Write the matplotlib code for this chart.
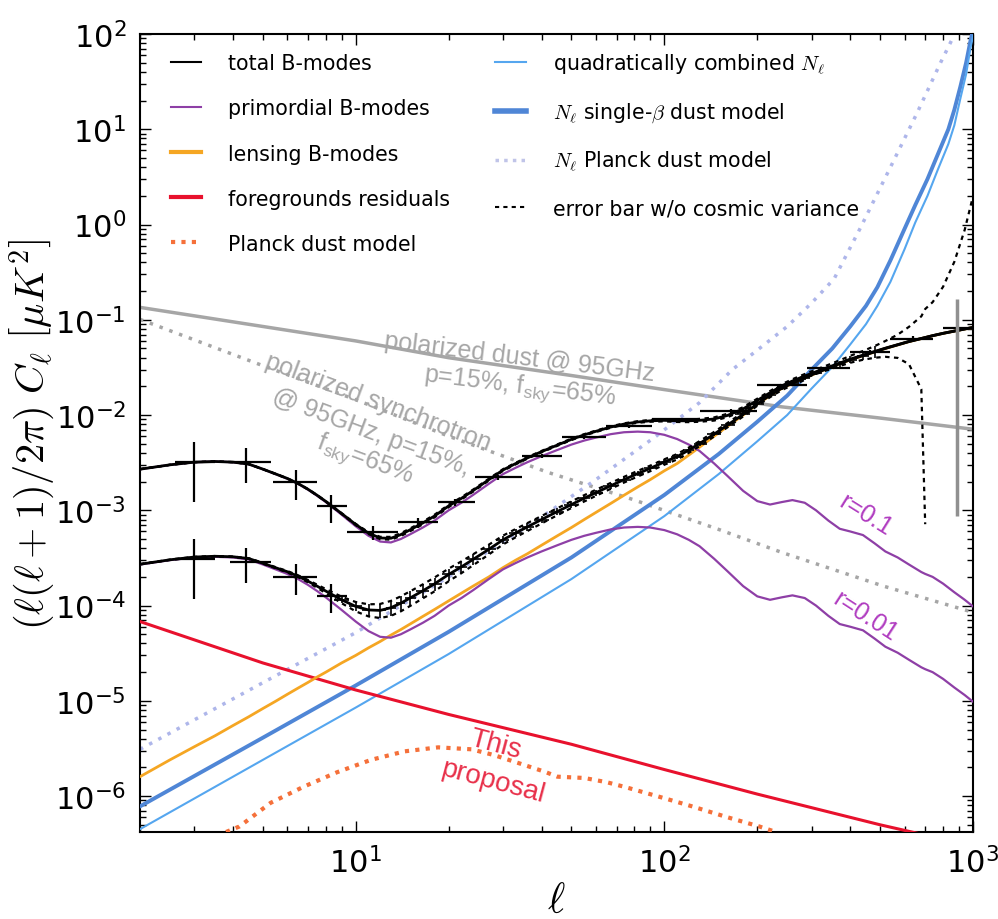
import numpy as np
import matplotlib.pyplot as plt

plt.rcParams["mathtext.fontset"] = "cm"
plt.rcParams["axes.unicode_minus"] = False

# ---- spectra on a common multipole grid ----
ell = np.array([2, 2.5, 3, 3.5, 4, 4.5, 5, 5.5, 6, 6.5, 7, 7.5, 8, 9, 10, 11, 12, 13, 14, 15,
                16.5, 18, 20, 22, 24, 27, 30, 33, 36, 40, 45, 50, 55, 60, 67, 74, 82, 90, 100,
                110, 120, 130, 145, 160, 180, 200, 220, 240, 260, 285, 310, 340, 370, 400, 440,
                480, 520, 570, 620, 680, 700, 740, 800, 870, 940, 1000])

prim_r01 = np.array([2.7e-3, 3.0e-3, 3.2e-3, 3.25e-3, 3.2e-3, 3.05e-3, 2.7e-3, 2.4e-3, 2.15e-3,
                     1.9e-3, 1.65e-3, 1.42e-3, 1.22e-3, 9.0e-4, 6.8e-4, 5.4e-4, 4.7e-4, 4.6e-4,
                     5.0e-4, 5.6e-4, 6.6e-4, 7.8e-4, 1.0e-3, 1.2e-3, 1.45e-3, 1.9e-3, 2.4e-3,
                     2.8e-3, 3.2e-3, 3.7e-3, 4.3e-3, 4.9e-3, 5.4e-3, 5.8e-3, 6.3e-3, 6.6e-3,
                     6.7e-3, 6.6e-3, 6.2e-3, 5.6e-3, 4.9e-3, 4.2e-3, 3.1e-3, 2.3e-3, 1.6e-3,
                     1.25e-3, 1.15e-3, 1.22e-3, 1.28e-3, 1.2e-3, 1.0e-3, 7.8e-4, 6.4e-4, 6.0e-4,
                     5.5e-4, 4.5e-4, 3.7e-4, 3.2e-4, 2.7e-4, 2.25e-4, 2.15e-4, 2.0e-4, 1.7e-4,
                     1.38e-4, 1.15e-4, 9.8e-5])

lensing = np.array([1.6e-6, 2.4e-6, 3.3e-6, 4.3e-6, 5.5e-6, 6.8e-6, 8.3e-6, 9.9e-6, 1.17e-5,
                    1.36e-5, 1.56e-5, 1.78e-5, 2.0e-5, 2.5e-5, 3.0e-5, 3.6e-5, 4.2e-5, 4.9e-5,
                    5.6e-5, 6.4e-5, 7.7e-5, 9.1e-5, 1.12e-4, 1.35e-4, 1.6e-4, 2.0e-4, 2.5e-4,
                    3.0e-4, 3.5e-4, 4.3e-4, 5.4e-4, 6.6e-4, 8.0e-4, 9.5e-4, 1.18e-3, 1.44e-3,
                    1.76e-3, 2.1e-3, 2.6e-3, 3.1e-3, 3.8e-3, 4.6e-3, 6.0e-3, 7.6e-3, 1.0e-2,
                    1.3e-2, 1.6e-2, 1.9e-2, 2.15e-2, 2.45e-2, 2.75e-2, 3.1e-2, 3.45e-2, 3.8e-2,
                    4.2e-2, 4.6e-2, 5.0e-2, 5.45e-2, 5.9e-2, 6.35e-2, 6.5e-2, 6.8e-2, 7.2e-2,
                    7.6e-2, 8.0e-2, 8.3e-2])

# error bar without cosmic variance
noise_err = np.array([1e-6, 1e-6, 1.5e-6, 2e-6, 2e-6, 2.5e-6, 3e-6, 3.5e-6, 4e-6, 4.5e-6, 5e-6,
                      6e-6, 7e-6, 9e-6, 1.1e-5, 1.3e-5, 1.5e-5, 1.7e-5, 1.9e-5, 2.1e-5, 2.4e-5,
                      2.8e-5, 3.2e-5, 3.6e-5, 4.0e-5, 4.6e-5, 5.2e-5, 5.8e-5, 6.4e-5, 7.2e-5,
                      8.2e-5, 9.2e-5, 1.02e-4, 1.12e-4, 1.28e-4, 1.45e-4, 1.65e-4, 1.85e-4,
                      2.1e-4, 2.4e-4, 2.7e-4, 3.0e-4, 3.5e-4, 4.1e-4, 5.0e-4, 6.0e-4, 7.2e-4,
                      8.6e-4, 1.0e-3, 1.25e-3, 1.5e-3, 1.9e-3, 2.4e-3, 3.2e-3, 4.5e-3, 6.5e-3,
                      9.5e-3, 1.5e-2, 2.5e-2, 4.5e-2, 6.45e-2, 8.5e-2, 0.15, 0.33, 0.8, 1.9])

# ---- foregrounds ----
dust_l = [2, 10, 20, 50, 100, 240, 500, 1000]
dust = [0.135, 0.060, 0.040, 0.026, 0.0185, 0.0122, 0.0093, 0.0071]

sync_l = [2, 5, 10, 20, 42, 79, 150, 241, 513, 1000]
sync = [0.101, 0.033, 0.0145, 6.0e-3, 2.5e-3, 1.3e-3, 6.3e-4, 3.6e-4, 1.6e-4, 8.5e-5]

fg_l = [2, 5, 10, 20, 50, 100, 200, 500, 700]
fg_res = [6.8e-5, 2.5e-5, 1.3e-5, 7.2e-6, 3.5e-6, 1.9e-6, 1.05e-6, 5.0e-7, 3.9e-7]

pdust_l = [3.8, 4.2, 5.3, 6.8, 8.7, 11.2, 14.4, 18.5, 23.7, 28, 34, 41, 45, 55, 65, 75, 100,
           123, 160, 203, 230]
pdust = [4.2e-7, 4.8e-7, 8.5e-7, 1.26e-6, 1.78e-6, 2.4e-6, 2.95e-6, 3.25e-6, 3.1e-6, 2.7e-6,
         2.2e-6, 1.8e-6, 1.6e-6, 1.55e-6, 1.4e-6, 1.24e-6, 9.5e-7, 7.8e-7, 6e-7, 4.8e-7, 4.2e-7]

# ---- noise curves ----
nl_l = [2, 5, 10, 20, 50, 100, 150, 200, 250, 300, 350, 400, 450, 490, 540, 600, 650, 712,
        770, 832, 870, 910, 950, 980, 1000]
nl_beta = [7.8e-7, 4.1e-6, 1.45e-5, 5.3e-5, 3.2e-4, 1.45e-3, 3.9e-3, 8.5e-3, 1.6e-2, 3.0e-2,
           5.0e-2, 8.5e-2, 0.14, 0.22, 0.42, 0.9, 1.6, 3.0, 5.5, 10, 16, 28, 50, 83, 110]
nl_quad = [4.5e-7, 2.4e-6, 8.5e-6, 3.1e-5, 1.9e-4, 8.7e-4, 2.4e-3, 5.3e-3, 1.0e-2, 1.9e-2,
           3.2e-2, 5.5e-2, 9.0e-2, 0.14, 0.25, 0.55, 1.05, 2.0, 3.8, 7.0, 11, 21, 38, 70, 95]

nlp_l = [2, 5, 10, 20, 40, 60, 94, 130, 166, 200, 250, 300, 355, 430, 550, 660, 785, 870]
nl_planck = [3.1e-6, 1.55e-5, 5.2e-5, 2.0e-4, 8.5e-4, 2.1e-3, 6e-3, 1.35e-2, 3.0e-2, 4.8e-2,
             8.5e-2, 0.15, 0.27, 0.9, 4.5, 15, 50, 98]

# ---- binned error bars ----
bin_l = [3, 4.4, 6.4, 8.3, 11.4, 15.9, 21, 29, 40, 55, 77, 110, 165, 240, 340, 465, 640, 890]
bin_lo = [2.6, 3.9, 5.4, 7.5, 9.4, 13.7, 18.5, 24.4, 34.5, 46.5, 64.6, 91, 130, 200, 290, 400, 540, 800]
bin_hi = [3.5, 5.3, 7.5, 9.4, 13.7, 18.5, 24.4, 34.5, 46.5, 64.6, 91, 130, 200, 290, 400, 540, 740, 1000]
bin_r01 = [3.19e-3, 3.19e-3, 1.97e-3, 1.10e-3, 5.9e-4, 7.5e-4, 1.21e-3, 2.22e-3, 3.69e-3,
           5.85e-3, 7.63e-3, 9.04e-3, 1.1e-2, 2.05e-2, 3.15e-2, 4.6e-2, 6.3e-2, 8.2e-2]
bin_rel = [0.62, 0.4, 0.35, 0.33, 0.17, 0.12, 0.08, 0.06, 0.05, 0.04, 0.04, 0.03, 0.04, 0.04,
           0.05, 0.06, 0.08, 0.0]
bin_r001 = [3.05e-4, 2.9e-4, 2.0e-4, 1.26e-4]
last_bar = (890, 8.8e-4, 0.165)

total_r01 = prim_r01 + lensing
total_r001 = 0.1 * prim_r01 + lensing

PURPLE = "#8e3fa6"
GRAY = "#a6a6a6"
DASH = (0, (2, 2))

fig = plt.figure(figsize=(9.98, 9.2), dpi=100)
ax = fig.add_axes([140 / 998, 1 - 833 / 920, 833 / 998, 798 / 920])

# foregrounds
ax.plot(dust_l, dust, color=GRAY, lw=2.5, zorder=2)
ax.plot(sync_l, sync, color=GRAY, lw=2.5, ls=(0, (1, 2)), zorder=2)

# noise
ax.plot(nlp_l, nl_planck, color="#aeb6ea", lw=2.5, ls=(0, (1, 2)), zorder=2)
ax.plot(nl_l, nl_beta, color="#4f86d6", lw=2.8, zorder=3)
ax.plot(nl_l, nl_quad, color="#55a6ef", lw=1.5, zorder=3)

# residuals
ax.plot(fg_l, fg_res, color="#e8112d", lw=2.2, zorder=3)
ax.plot(pdust_l, pdust, color="#f5703a", lw=3, ls=(0, (1, 1.5)), zorder=3)

# signal
ax.plot(ell, lensing, color="#f5a623", lw=2, zorder=3)
ax.plot(ell, prim_r01, color=PURPLE, lw=1.6, zorder=4)
ax.plot(ell, 0.1 * prim_r01, color=PURPLE, lw=1.6, zorder=4)

# error bar w/o cosmic variance envelopes
up1 = total_r01 + noise_err
lo1 = np.where(total_r01 - noise_err > 0, total_r01 - noise_err, np.nan)
ax.plot(ell, up1, color="k", lw=1.6, ls=DASH, zorder=5)
ax.plot(ell, lo1, color="k", lw=1.6, ls=DASH, zorder=5)
m = ell <= 300
ax.plot(ell[m], (total_r001 + noise_err)[m], color="k", lw=1.6, ls=DASH, zorder=5)
ax.plot(ell[m], (total_r001 - noise_err)[m], color="k", lw=1.6, ls=DASH, zorder=5)

ax.plot(ell, total_r01, color="k", lw=2, zorder=6)
ax.plot(ell, total_r001, color="k", lw=2, zorder=6)

# coarse bins
bl = np.array(bin_l)
bv = np.array(bin_r01)
xerr = [bl - np.array(bin_lo), np.array(bin_hi) - bl]
ax.errorbar(bl, bv, xerr=xerr, yerr=np.array(bin_rel) * bv, fmt="none", ecolor="k",
            elinewidth=1.6, capsize=0, zorder=7)
n4 = len(bin_r001)
bv2 = np.array(bin_r001)
ax.errorbar(bl[:n4], bv2, xerr=[x[:n4] for x in xerr], yerr=np.array(bin_rel[:n4]) * bv2,
            fmt="none", ecolor="k", elinewidth=1.6, capsize=0, zorder=7)

# fine bins along r=0.01 total
edges = np.sqrt(ell[:-1] * ell[1:])
idx = np.where((ell >= 9) & (ell <= 480))[0]
ax.errorbar(ell[idx], total_r001[idx],
            xerr=[ell[idx] - edges[idx - 1], edges[idx] - ell[idx]],
            yerr=noise_err[idx], fmt="none", ecolor="k", elinewidth=1.2, capsize=0, zorder=7)

ax.vlines(last_bar[0], last_bar[1], last_bar[2], color="#909090", lw=2.5, zorder=7)

# annotations
tfont = dict(family="Liberation Sans", fontsize=18)
fsky = r"f$_\mathregular{sky}$=65%"
ax.text(34, 0.041, "polarized dust @ 95GHz", color=GRAY, rotation=-7, ha="center", va="center", **tfont)
ax.text(34, 0.0203, "p=15%, " + fsky, color=GRAY, rotation=-7, ha="center", va="center", **tfont)
ax.text(11.8, 0.0140, "polarized synchrotron", color=GRAY, rotation=-20.5, ha="center", va="center", **tfont)
ax.text(11.2, 6.8e-3, "@ 95GHz, p=15%,", color=GRAY, rotation=-20.5, ha="center", va="center", **tfont)
ax.text(10.7, 3.44e-3, fsky, color=GRAY, rotation=-20.5, ha="center", va="center", **tfont)
ax.text(448, 9.1e-4, "r=0.1", color="#b03cc0", rotation=-32, ha="center", va="center", **tfont)
ax.text(448, 7.8e-5, "r=0.01", color="#b03cc0", rotation=-33, ha="center", va="center", **tfont)
pfont = dict(family="Liberation Sans", fontsize=20)
ax.text(28.4, 3.48e-6, "This", color="#e8304a", rotation=-15, ha="center", va="center", **pfont)
ax.text(27.9, 1.42e-6, "proposal", color="#e8304a", rotation=-15, ha="center", va="center", **pfont)

# legend
handles = [
    plt.Line2D([], [], color="k", lw=1.5),
    plt.Line2D([], [], color=PURPLE, lw=1.5),
    plt.Line2D([], [], color="#f5a623", lw=3),
    plt.Line2D([], [], color="#e8112d", lw=3),
    plt.Line2D([], [], color="#f5703a", lw=3, ls=(0, (1, 1.5))),
    plt.Line2D([], [], color="#55a6ef", lw=1.5),
    plt.Line2D([], [], color="#4f86d6", lw=4),
    plt.Line2D([], [], color="#c0c4e8", lw=2.5, ls=(0, (1, 1.5))),
    plt.Line2D([], [], color="k", lw=1.5, ls=DASH),
]
labels = ["total B-modes", "primordial B-modes", "lensing B-modes", "foregrounds residuals",
          "Planck dust model", r"quadratically combined $N_\ell$",
          r"$N_\ell$ single-$\beta$ dust model", r"$N_\ell$ Planck dust model",
          "error bar w/o cosmic variance"]
ax.legend(handles, labels, ncol=2, loc="upper left", bbox_to_anchor=(0.012, 1.004),
          frameon=False, fontsize=14.8, handlelength=1.5, handletextpad=1.3,
          columnspacing=2.2, labelspacing=1.22, borderaxespad=0.6)

ax.set_xscale("log")
ax.set_yscale("log")
ax.set_xlim(2, 1000)
ax.set_ylim(4.2e-7, 100)
ax.tick_params(which="both", direction="in", top=True, right=True, labelsize=22, pad=10)
ax.tick_params(which="major", length=8, width=1)
ax.tick_params(which="minor", length=4, width=1)
for s in ax.spines.values():
    s.set_linewidth(1.5)
ax.set_xlabel(r"$\ell$", fontsize=30, labelpad=0)
ax.set_ylabel(r"$(\ell(\ell+1)/2\pi)\ C_\ell\ \left[\mu K^2\right]$", fontsize=29, labelpad=-2)

plt.savefig("out.png", dpi=100)
